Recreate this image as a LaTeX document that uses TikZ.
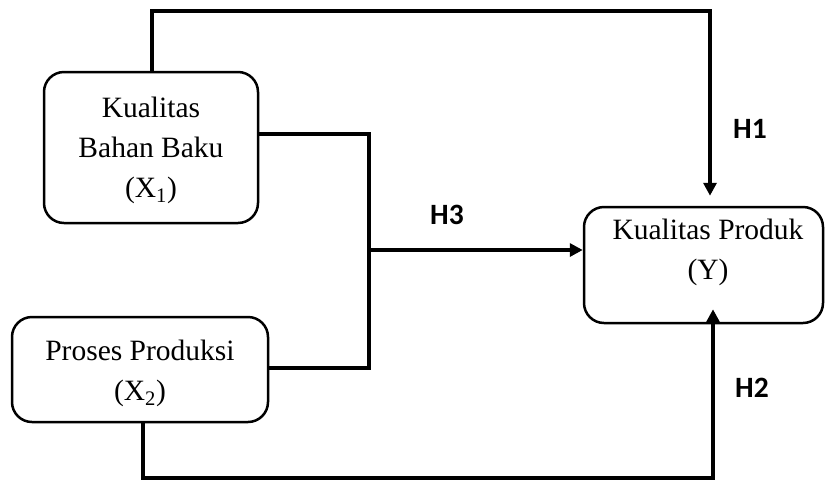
\documentclass[tikz,border=0pt]{standalone}
\usepackage{fontspec}
\setmainfont{Liberation Serif}
\newfontfamily\hfont{Carlito}
\usetikzlibrary{arrows.meta}
\begin{document}
\begin{tikzpicture}[x=1pt,y=-1pt,
  boxshape/.style={draw, line width=2.5pt, rounded corners=20pt, inner sep=0pt},
  txt/.style={align=center, font=\fontsize{29.5}{40}\selectfont, inner sep=0pt},
  hlabel/.style={font=\hfont\bfseries\fontsize{29.5}{32}\selectfont, inner sep=0pt},
  conn/.style={line width=3.5pt},
  arr/.style={line width=3.5pt, -{Triangle[length=13pt,width=13pt]}}
]
\useasboundingbox (0,0) rectangle (826,480);
% boxes
\node[boxshape, minimum width=214pt, minimum height=151pt] (X1) at (151,147.5) {};
\node[boxshape, minimum width=256pt, minimum height=105pt] (X2) at (140,369.5) {};
\node[boxshape, minimum width=239pt, minimum height=116pt] (Y) at (703.5,265) {};
% texts
\node[txt] (tX1) at (151,150) {Kualitas\\Bahan Baku\\(X\textsubscript{1})};
\node[txt] (tX2) at (140,373) {Proses Produksi\\(X\textsubscript{2})};
\node[txt] (tY) at (708,252) {Kualitas Produk\\(Y)};
% labels
\node[hlabel] (H1) at (750,129) {H1};
\node[hlabel] (H3) at (447,215) {H3};
\node[hlabel] (H2) at (752,388) {H2};
% coordinates
\coordinate (t1) at (152,11);
\coordinate (t2) at (710,11);
\coordinate (j1) at (369,134);
\coordinate (j2) at (369,368);
\coordinate (jm) at (369,250);
\coordinate (b1) at (143,478);
\coordinate (b2) at (713,478);
% connectors
\draw[arr, shorten >=10pt] (X1.north -| t1) -- (t1) -- (t2) -- (t2 |- Y.north);
\draw[conn] (X1.east |- j1) -- (j1) -- (j2) -- (X2.east |- j2);
\draw[arr] (jm) -- (Y.west |- jm);
\draw[arr] (X2.south -| b1) -- (b1) -- (b2) -- ([yshift=15pt]Y.south -| b2);
\end{tikzpicture}
\end{document}
